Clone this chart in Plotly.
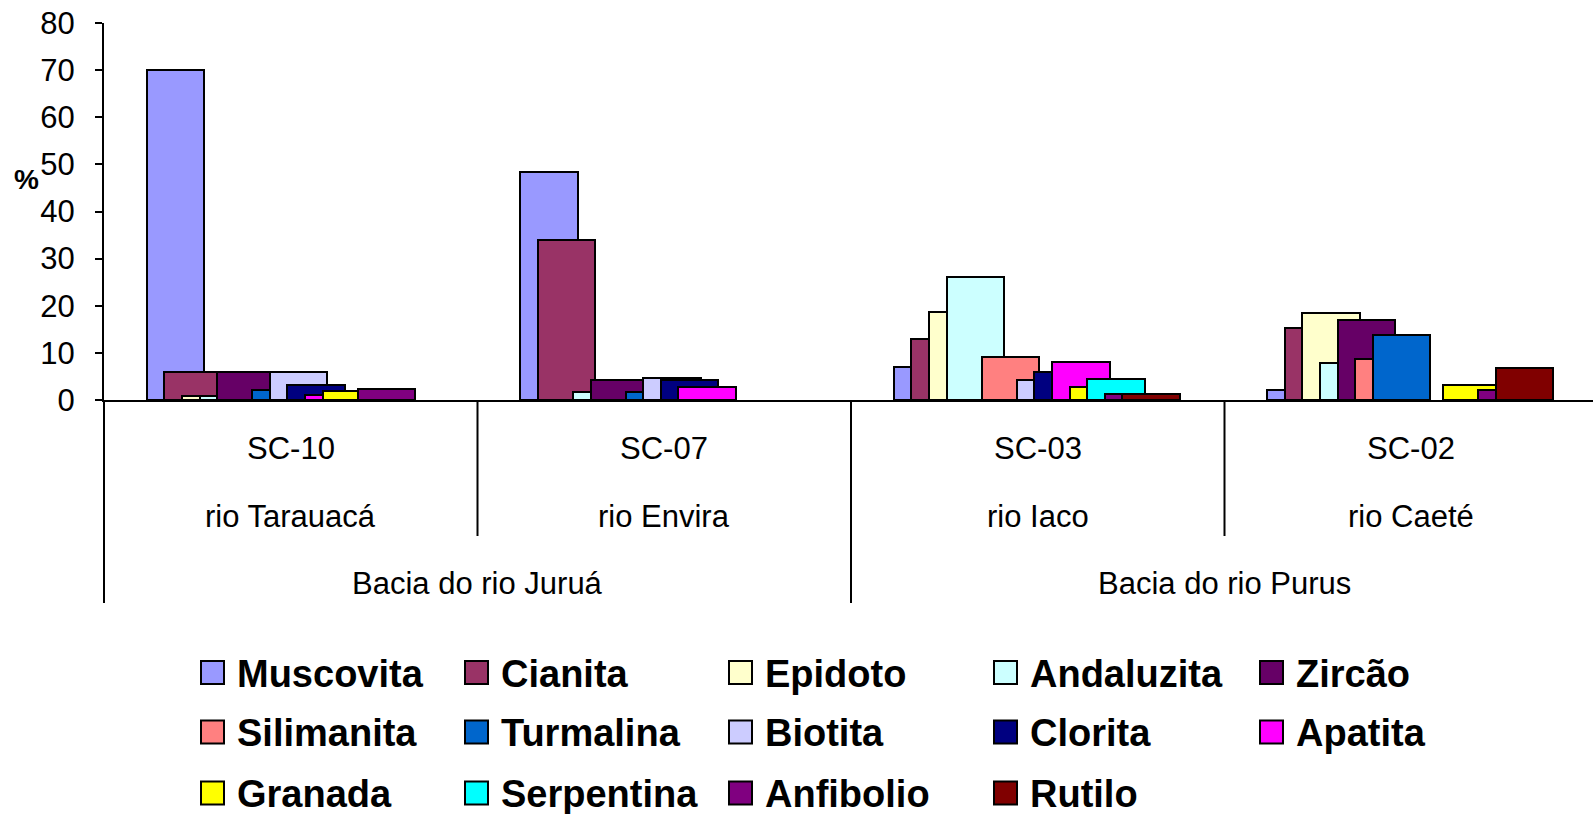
import plotly.graph_objects as go

# Heavy-mineral percentages per sample
samples = ["SC-10", "SC-07", "SC-03", "SC-02"]
rivers = ["rio Tarauacá", "rio Envira", "rio Iaco", "rio Caeté"]
basins = ["Bacia do rio Juruá", "Bacia do rio Purus"]

minerals = ["Muscovita", "Cianita", "Epidoto", "Andaluzita", "Zircão",
            "Silimanita", "Turmalina", "Biotita", "Clorita", "Apatita",
            "Granada", "Serpentina", "Anfibolio", "Rutilo"]

muscovita = [70.0, 48.3, 7.0, 2.1]
cianita = [5.9, 34.0, 12.9, 15.3]
epidoto = [0.9, 0.0, 18.7, 18.4]
andaluzita = [0.9, 1.6, 26.1, 7.9]
zircao = [5.9, 4.2, 0.0, 16.9]
silimanita = [0.0, 0.0, 9.1, 8.8]
turmalina = [2.1, 1.6, 0.0, 13.7]
biotita = [5.9, 4.7, 4.3, 0.0]
clorita = [3.2, 4.2, 5.9, 0.0]
apatita = [1.0, 2.7, 8.0, 0.0]
granada = [2.0, 0.0, 2.8, 3.1]
serpentina = [0.0, 0.0, 4.4, 0.0]
anfibolio = [2.3, 0.0, 1.2, 2.1]
rutilo = [0.0, 0.0, 1.2, 6.7]

series = [muscovita, cianita, epidoto, andaluzita, zircao, silimanita,
          turmalina, biotita, clorita, apatita, granada, serpentina,
          anfibolio, rutilo]

colors = ["#9999FF", "#993366", "#FFFFCC", "#CCFFFF", "#660066", "#FF8080",
          "#0066CC", "#CCCCFF", "#000080", "#FF00FF", "#FFFF00", "#00FFFF",
          "#800080", "#800000"]

y_ticks = [0, 10, 20, 30, 40, 50, 60, 70, 80]

# page geometry (pixels)
W, H = 1593, 814
ML, MT, MB = 104, 23, 414
PW = W - ML
PH = H - MT - MB
X_MIN, X_MAX = -0.5, 3.4866

FONT = "Arial, Liberation Sans, sans-serif"

# overlapping Excel-style bars: each series steps right inside its group
BAR_W = 0.154
STEP = 0.04707
FIRST = -0.3855

xs = list(range(len(samples)))
fig = go.Figure()
for i, (name, vals, col) in enumerate(zip(minerals, series, colors)):
    # empty cells (0 %) get no bar at all
    ys = [v if v > 0 else None for v in vals]
    fig.add_trace(go.Bar(
        x=xs, y=ys, name=name,
        width=BAR_W, offset=FIRST + i * STEP,
        marker=dict(color=col, line=dict(color="black", width=2)),
        showlegend=False,
    ))


def px_x(px):
    return (px - ML) / PW


def px_y(py):
    return (H - MB - py) / PH


shapes = []
annotations = []

# left axis continues down through the label rows
shapes.append(dict(type="line", xref="paper", yref="paper",
                   x0=0, x1=0, y0=0, y1=px_y(603),
                   line=dict(color="black", width=2)))
# sample / river dividers
for xv, bottom in [(0.5, 536), (1.5, 603), (2.5, 536)]:
    shapes.append(dict(type="line", xref="x", yref="paper",
                       x0=xv, x1=xv, y0=0, y1=px_y(bottom),
                       line=dict(color="black", width=2)))

for i, (s, r) in enumerate(zip(samples, rivers)):
    annotations.append(dict(x=i, y=px_y(448), xref="x", yref="paper",
                            text=s, showarrow=False, yanchor="middle",
                            font=dict(family=FONT, size=31, color="black")))
    annotations.append(dict(x=i, y=px_y(516), xref="x", yref="paper",
                            text=r, showarrow=False, yanchor="middle",
                            font=dict(family=FONT, size=31, color="black")))
for j, b in enumerate(basins):
    annotations.append(dict(x=0.5 + 2 * j, y=px_y(583), xref="x", yref="paper",
                            text=b, showarrow=False, yanchor="middle",
                            font=dict(family=FONT, size=31, color="black")))

# y-axis unit label
annotations.append(dict(x=px_x(26), y=px_y(179), xref="paper", yref="paper",
                        text="<b>%</b>", showarrow=False,
                        xanchor="center", yanchor="middle",
                        font=dict(family=FONT, size=28, color="black")))

# legend: 5 columns x 3 rows
col_x = [201, 465, 729, 994, 1260]
row_y = [672.5, 732, 793]
SQ = 23
for k, (name, col) in enumerate(zip(minerals, colors)):
    cx = col_x[k % 5]
    cy = row_y[k // 5]
    shapes.append(dict(type="rect", xref="paper", yref="paper",
                       x0=px_x(cx), x1=px_x(cx + SQ),
                       y0=px_y(cy + SQ / 2), y1=px_y(cy - SQ / 2),
                       fillcolor=col, line=dict(color="black", width=2)))
    annotations.append(dict(x=px_x(cx + SQ + 11), y=px_y(cy + 1),
                            xref="paper", yref="paper",
                            text=f"<b>{name}</b>", showarrow=False,
                            xanchor="left", yanchor="middle",
                            font=dict(family=FONT, size=38, color="black")))

fig.update_layout(
    width=W, height=H,
    margin=dict(l=ML, r=0, t=MT, b=MB, pad=0),
    paper_bgcolor="white", plot_bgcolor="white",
    barmode="overlay", bargap=0,
    font=dict(family=FONT, color="black"),
    shapes=shapes, annotations=annotations,
    showlegend=False,
)
fig.update_xaxes(range=[X_MIN, X_MAX], showticklabels=False, ticks="",
                 showgrid=False, zeroline=False,
                 showline=True, linecolor="black", linewidth=2)
fig.update_yaxes(range=[0, 80], tickvals=y_ticks, ticks="outside",
                 ticklen=7, tickwidth=2, tickcolor="black",
                 ticklabelstandoff=14,
                 tickfont=dict(family=FONT, size=31, color="black"),
                 showgrid=False, zeroline=False,
                 showline=True, linecolor="black", linewidth=2)

fig.write_html("out.html")
